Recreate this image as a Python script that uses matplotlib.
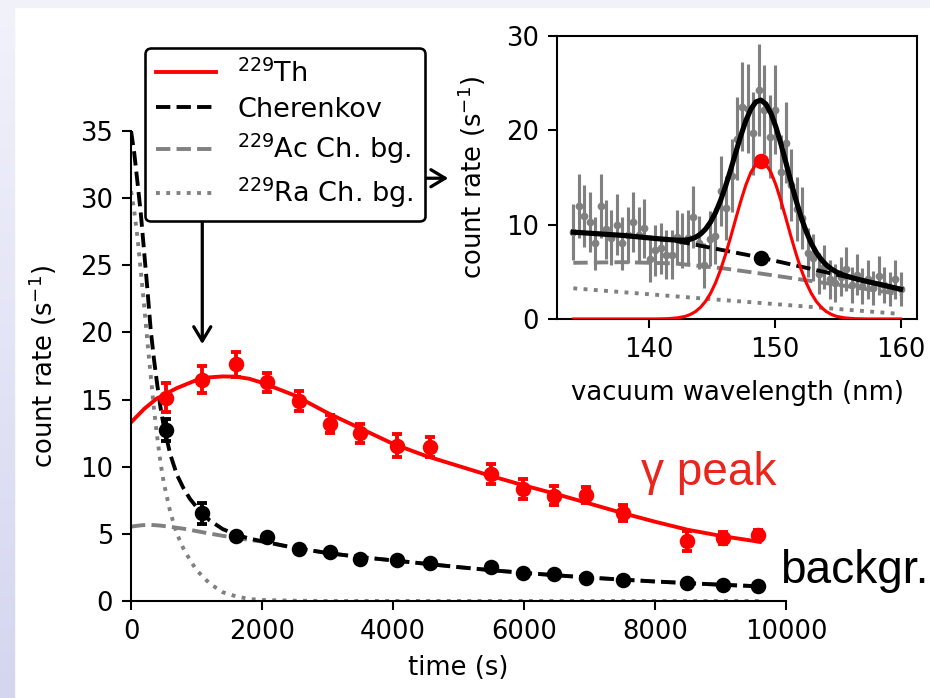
import numpy as np
import matplotlib
matplotlib.use('Agg')
import matplotlib.pyplot as plt
from matplotlib.lines import Line2D
from matplotlib.patches import Rectangle
from matplotlib.colors import LinearSegmentedColormap

# main panel: measured count rates vs time
t_meas = [530, 1080, 1600, 2080, 2565, 3030, 3495, 4065, 4560, 5500, 5990, 6465, 6947, 7506, 8493, 9033, 9578]
peak_rate = [15.14, 16.46, 17.62, 16.28, 14.92, 13.18, 12.48, 11.57, 11.49, 9.46, 8.34, 7.84, 7.89, 6.58, 4.47, 4.71, 4.91]
peak_err = [1.1, 1.0, 0.95, 0.7, 0.75, 0.7, 0.7, 0.87, 0.75, 0.72, 0.75, 0.72, 0.6, 0.6, 0.77, 0.45, 0.37]
bg_rate = [12.73, 6.53, 4.84, 4.79, 3.85, 3.67, 3.1, 3.05, 2.8, 2.55, 2.11, 2.01, 1.69, 1.56, 1.36, 1.19, 1.14]
bg_err = [0.8, 0.77, 0.2, 0.2, 0.15, 0.15, 0.12, 0.12, 0.1, 0.1, 0.08, 0.08, 0.07, 0.07, 0.06, 0.06, 0.05]

# fitted curves
t_fit = [0, 50, 100, 150, 200, 250, 300, 350, 400, 450, 500, 600, 700, 800, 900, 1000, 1200, 1400, 1600, 1800,
         2000, 2500, 3000, 3500, 4000, 4500, 5000, 5500, 6000, 6500, 7000, 7500, 8000, 8500, 9000, 9600]
th_fit = [13.3, 13.55, 13.8, 14.05, 14.3, 14.5, 14.7, 14.9, 15.1, 15.2, 15.35, 15.6, 15.85, 16.05, 16.25, 16.45, 16.65,
          16.72, 16.7, 16.55, 16.25, 15.3, 14.0, 12.85, 11.7, 10.8, 10.05, 9.3, 8.6, 7.95, 7.25, 6.55, 5.9, 5.3, 4.85, 4.4]
cher_fit = [35.0, 33.3, 31.1, 28.8, 26.0, 23.2, 20.2, 18.0, 16.1, 14.4, 13.0, 10.9, 9.4, 8.4, 7.6, 7.0, 6.0, 5.35,
            4.95, 4.65, 4.45, 3.95, 3.57, 3.27, 3.02, 2.77, 2.52, 2.29, 2.09, 1.91, 1.74, 1.59, 1.45, 1.33, 1.21, 1.09]
ac_fit = [5.53, 5.57, 5.6, 5.63, 5.65, 5.66, 5.66, 5.65, 5.63, 5.61, 5.58, 5.52, 5.45, 5.38, 5.3, 5.2, 5.02, 4.85,
          4.7, 4.55, 4.42, 3.95, 3.57, 3.27, 3.02, 2.77, 2.52, 2.29, 2.09, 1.91, 1.74, 1.59, 1.45, 1.33, 1.21, 1.09]
ra_fit = [30.5, 29.0, 27.0, 24.5, 22.0, 19.3, 16.8, 14.3, 12.2, 10.3, 8.8, 6.6, 5.0, 3.9, 3.05, 2.3, 1.3, 0.65,
          0.35, 0.15, 0.07, 0.02, 0.0, 0.0, 0.0, 0.0, 0.0, 0.0, 0.0, 0.0, 0.0, 0.0, 0.0, 0.0, 0.0, 0.0]

# inset: spectrum
wl = [134.0, 134.43, 134.87, 135.3, 135.73, 136.17, 136.6, 137.03, 137.47, 137.9, 138.33, 138.77, 139.2, 139.63,
      140.07, 140.5, 140.93, 141.37, 141.8, 142.23, 142.67, 143.1, 143.53, 143.97, 144.4, 144.83, 145.27, 145.7,
      146.13, 146.57, 147.0, 147.43, 147.87, 148.3, 148.73, 149.17, 149.6, 150.03, 150.47, 150.9, 151.33, 151.77,
      152.2, 152.63, 153.07, 153.5, 153.93, 154.37, 154.8, 155.23, 155.67, 156.1, 156.53, 156.97, 157.4, 157.83,
      158.27, 158.7, 159.13, 159.57, 160.0]
spec = [9.2, 12.0, 10.9, 10.3, 8.0, 12.0, 9.5, 8.6, 10.0, 8.0, 8.9, 10.3, 8.9, 9.6,
        6.4, 7.3, 7.5, 6.8, 6.8, 8.7, 8.3, 8.6, 10.8, 8.1, 5.7, 8.5, 8.8, 13.6,
        11.8, 15.2, 19.1, 22.5, 22.3, 19.7, 24.3, 22.2, 19.3, 22.2, 15.6, 18.7, 14.2, 11.7,
        10.7, 7.0, 6.5, 4.8, 5.5, 4.2, 3.8, 4.5, 5.3, 3.6, 4.7, 3.5, 4.2, 3.3,
        4.6, 3.6, 3.2, 4.2, 3.2]
spec_err = [3.0, 3.4, 3.3, 3.2, 2.8, 3.4, 3.1, 2.9, 3.2, 2.8, 3.0, 3.2, 3.0, 3.1,
            2.5, 2.7, 2.7, 2.6, 2.6, 2.9, 2.9, 2.9, 3.3, 2.8, 2.4, 2.9, 3.0, 3.7,
            3.4, 3.9, 4.4, 4.7, 4.7, 4.4, 4.9, 4.7, 4.4, 4.7, 3.9, 4.3, 3.8, 3.4,
            3.3, 2.6, 2.5, 2.2, 2.3, 2.1, 2.0, 2.1, 2.3, 1.9, 2.2, 1.9, 2.1, 1.8,
            2.1, 1.9, 1.8, 2.1, 1.8]

# fit curves of the spectrum
wl_fit = [134, 138, 140.5, 141.5, 142.3, 142.9, 143.3, 143.7, 144.1, 144.5, 144.9, 145.3, 145.7, 146.1, 146.5,
          146.9, 147.3, 147.7, 148.1, 148.5, 148.9, 149.3, 149.7, 150.1, 150.5, 150.9, 151.3, 151.7, 152.1, 152.5,
          152.9, 153.3, 153.7, 154.1, 154.5, 154.9, 155.5, 156.3, 157.3, 158.5, 160]
th_spec = [0, 0, 0, 0.03, 0.12, 0.28, 0.48, 0.78, 1.23, 1.86, 2.72, 3.84, 5.23, 6.87, 8.69,
           10.61, 12.49, 14.18, 15.53, 16.4, 16.7, 16.4, 15.53, 14.18, 12.49, 10.61, 8.69, 6.87, 5.23, 3.84,
           2.72, 1.86, 1.23, 0.78, 0.48, 0.28, 0.12, 0.03, 0, 0, 0]
bgsum_fit = [9.2, 8.85, 8.53, 8.39, 8.23, 8.08, 7.97, 7.87, 7.76, 7.66, 7.55, 7.45, 7.34, 7.24, 7.13,
             7.03, 6.92, 6.82, 6.71, 6.61, 6.5, 6.38, 6.26, 6.14, 6.02, 5.9, 5.78, 5.66, 5.54, 5.42,
             5.3, 5.18, 5.06, 4.94, 4.82, 4.7, 4.52, 4.28, 3.98, 3.62, 3.15]
total_fit = [9.2, 8.85, 8.53, 8.42, 8.35, 8.36, 8.45, 8.65, 8.99, 9.52, 10.27, 11.29, 12.57, 14.11, 15.82,
             17.64, 19.41, 21.0, 22.24, 23.01, 23.2, 22.78, 21.79, 20.32, 18.51, 16.51, 14.47, 12.53, 10.77, 9.26,
             8.02, 7.04, 6.29, 5.72, 5.3, 4.98, 4.64, 4.31, 3.98, 3.62, 3.15]
wl_bg = [134, 138, 142, 146, 148.9, 152, 156, 160]
ac_spec = [5.95, 6.02, 5.89, 5.35, 4.81, 4.2, 3.42, 2.62]
ra_spec = [3.25, 2.83, 2.41, 1.99, 1.69, 1.37, 0.95, 0.53]
peak_wl = 148.9
peak_top = 16.7
peak_bg = 6.5

fig = plt.figure(figsize=(5.0, 3.753), dpi=186)

# slide-like background: lavender edge, white page
bgax = fig.add_axes([0, 0, 1, 1], zorder=-10)
cm = LinearSegmentedColormap.from_list('bgc', ['#f2f2fb', '#d4d6f0'])
bgax.imshow(np.linspace(0, 1, 256).reshape(-1, 1), aspect='auto', cmap=cm, extent=[0, 1, 0, 1])
bgax.add_patch(Rectangle((16 / 930, 0), 1, (698 - 9) / 698, color='white'))
bgax.set_xlim(0, 1)
bgax.set_ylim(0, 1)
bgax.axis('off')

ax = fig.add_axes([0.1409, 0.139, 0.7043, 0.6734])
ax.patch.set_alpha(0)
ax.plot(t_fit, ra_fit, ':', color='gray')
ax.plot(t_fit, ac_fit, '--', color='gray')
ax.plot(t_fit, cher_fit, 'k--')
ax.plot(t_fit, th_fit, color='red')
ax.errorbar(t_meas, peak_rate, yerr=peak_err, fmt='o', color='red', ms=5, capsize=2, capthick=1.5)
ax.errorbar(t_meas, bg_rate, yerr=bg_err, fmt='o', color='k', ms=5, capsize=2, capthick=1.5)
ax.set_xlim(0, 10000)
ax.set_ylim(0, 35)
ax.set_xticks([0, 2000, 4000, 6000, 8000, 10000])
ax.set_yticks([0, 5, 10, 15, 20, 25, 30, 35])
ax.spines['top'].set_visible(False)
ax.spines['right'].set_visible(False)
ax.set_xlabel('time (s)')
ax.set_ylabel('count rate (s$^{-1}$)', labelpad=8)

handles = [Line2D([], [], color='red'),
           Line2D([], [], color='k', ls='--'),
           Line2D([], [], color='gray', ls='--'),
           Line2D([], [], color='gray', ls=':')]
labels = ['$^{229}$Th', 'Cherenkov', '$^{229}$Ac Ch. bg.', '$^{229}$Ra Ch. bg.']
leg = fig.legend(handles, labels, loc='upper left', bbox_to_anchor=(0.156, 0.931), borderaxespad=0,
                 fontsize=10.5, handlelength=2.2, labelspacing=0.34, framealpha=1, edgecolor='k', fancybox=True)
leg.get_frame().set_linewidth(1.0)

arrow = dict(arrowstyle='->,head_length=0.55,head_width=0.33', color='k', lw=1.25, shrinkA=0, shrinkB=0)
ax.annotate('', xy=(0.2175, 0.507), xytext=(0.2175, 0.682), xycoords='figure fraction', arrowprops=arrow)
ax.annotate('', xy=(0.482, 0.7446), xytext=(0.456, 0.7446), xycoords='figure fraction', arrowprops=arrow)

fig.text(0.689, 0.3052, '\u03b3 peak', color='#e8261c', fontsize=17.8, family='Liberation Sans')
fig.text(0.8387, 0.1652, 'backgr.', color='k', fontsize=17.8, family='Liberation Sans')

# inset
ax2 = fig.add_axes([0.5989, 0.543, 0.3871, 0.4054])
ax2.errorbar(wl, spec, yerr=spec_err, fmt='o', color='gray', ms=2, elinewidth=1.2, zorder=1)
ax2.plot(wl_bg, ra_spec, ':', color='gray', zorder=2)
ax2.plot(wl_bg, ac_spec, '--', color='gray', zorder=2)
ax2.plot(wl_fit, bgsum_fit, 'k--', zorder=3)
ax2.plot(wl_fit, th_spec, color='red', lw=1.2, zorder=3)
ax2.plot(wl_fit, total_fit, 'k-', lw=2, zorder=4)
ax2.plot([peak_wl], [peak_top], 'o', color='red', ms=5, zorder=5)
ax2.plot([peak_wl], [peak_bg], 'ko', ms=5, zorder=5)
ax2.set_ylim(0, 30)
ax2.set_xticks([140, 150, 160])
ax2.set_yticks([0, 10, 20, 30])
ax2.set_xlabel('vacuum wavelength (nm)', labelpad=6.5)
ax2.set_ylabel('count rate (s$^{-1}$)', labelpad=7)

fig.savefig('out.png', dpi=186)
